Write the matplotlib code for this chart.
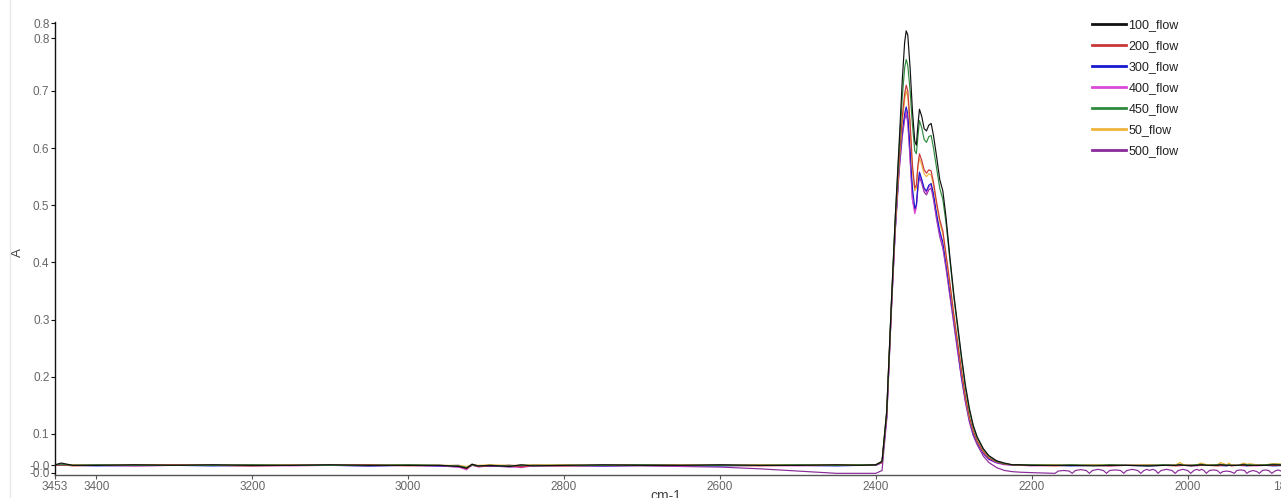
import matplotlib
matplotlib.use("Agg")
import matplotlib.pyplot as plt
from matplotlib.lines import Line2D

# ---------------- data ----------------
series_names = ["100_flow", "200_flow", "300_flow", "400_flow", "450_flow", "50_flow", "500_flow"]
series_colors = ["#111111", "#c8383a", "#1a1ad0", "#d94ad9", "#2f8a3c", "#f0b43c", "#8a2a9a"]

wn_left = [3453, 3445, 3430, 3400, 3350, 3300, 3250, 3200, 3150, 3100, 3050, 3000, 2960, 2935, 2925,
           2918, 2910, 2895, 2870, 2855, 2840, 2800, 2750, 2700, 2650, 2600, 2550, 2500, 2450, 2420]
wn_peak = [2400, 2392, 2386, 2380, 2375, 2370, 2366, 2363, 2361, 2359, 2356, 2353, 2350, 2348, 2346,
           2344, 2341, 2338, 2335, 2332, 2329, 2326, 2322, 2318, 2314, 2310, 2305, 2300, 2295, 2290,
           2285, 2280, 2275, 2270, 2262, 2255, 2245, 2235, 2225]
wn_right = [2215, 2200, 2170, 2150, 2120, 2100, 2080, 2050, 2030, 2015, 2010, 2005, 1995, 1988, 1983,
            1975, 1962, 1958, 1950, 1947, 1944, 1935, 1928, 1924, 1920, 1912, 1900, 1890, 1873]
wn_right_500 = [2215, 2195, 2170, 2166, 2159, 2152, 2148, 2144, 2137, 2130, 2126, 2122, 2115, 2108, 2104,
                2100, 2093, 2086, 2082, 2078, 2071, 2064, 2060, 2056, 2052, 2049, 2045, 2041, 2038, 2034,
                2027, 2020, 2016, 2012, 2006, 2000, 1996, 1992, 1988, 1985, 1982, 1979, 1976, 1972, 1967,
                1962, 1958, 1955, 1950, 1945, 1940, 1937, 1932, 1927, 1924, 1921, 1916, 1911, 1908, 1904,
                1900, 1896, 1892, 1888, 1884, 1880, 1876, 1873]

a100_left = [0.046, 0.049, 0.045, 0.045, 0.046, 0.045, 0.046, 0.045, 0.045, 0.046, 0.045, 0.045, 0.045, 0.043, 0.040,
             0.047, 0.044, 0.045, 0.043, 0.046, 0.044, 0.045, 0.046, 0.045, 0.045, 0.046, 0.045, 0.045, 0.046, 0.045]
a100_peak = [0.046, 0.052, 0.14, 0.33, 0.48, 0.61, 0.72, 0.785, 0.805, 0.798, 0.74, 0.665, 0.612, 0.605, 0.64,
             0.668, 0.655, 0.634, 0.630, 0.640, 0.643, 0.622, 0.585, 0.545, 0.525, 0.48, 0.41, 0.345, 0.29, 0.235,
             0.185, 0.145, 0.115, 0.095, 0.074, 0.062, 0.053, 0.049, 0.046]
a100_right = [0.046, 0.045, 0.045, 0.045, 0.044, 0.045, 0.045, 0.044, 0.045, 0.045, 0.046, 0.045, 0.045, 0.045, 0.046,
              0.045, 0.045, 0.046, 0.045, 0.045, 0.045, 0.045, 0.046, 0.045, 0.045, 0.045, 0.045, 0.046, 0.045]

a200_left = [0.045, 0.046, 0.044, 0.045, 0.045, 0.046, 0.045, 0.044, 0.045, 0.045, 0.046, 0.044, 0.045, 0.044, 0.039,
             0.046, 0.043, 0.044, 0.045, 0.042, 0.045, 0.044, 0.045, 0.046, 0.045, 0.045, 0.044, 0.045, 0.045, 0.045]
a200_peak = [0.046, 0.050, 0.135, 0.325, 0.47, 0.58, 0.655, 0.695, 0.71, 0.70, 0.645, 0.57, 0.53, 0.535, 0.57,
             0.59, 0.578, 0.562, 0.556, 0.562, 0.560, 0.54, 0.505, 0.475, 0.455, 0.415, 0.365, 0.31, 0.26, 0.21,
             0.165, 0.13, 0.105, 0.088, 0.069, 0.058, 0.051, 0.047, 0.046]
a200_right = [0.045, 0.045, 0.044, 0.045, 0.045, 0.044, 0.045, 0.045, 0.045, 0.044, 0.045, 0.045, 0.044, 0.045, 0.045,
              0.045, 0.044, 0.045, 0.045, 0.045, 0.044, 0.045, 0.045, 0.045, 0.044, 0.045, 0.045, 0.045, 0.045]

a300_left = [0.045, 0.045, 0.045, 0.044, 0.045, 0.045, 0.044, 0.045, 0.046, 0.045, 0.044, 0.045, 0.044, 0.045, 0.041,
             0.045, 0.044, 0.043, 0.045, 0.044, 0.045, 0.045, 0.044, 0.045, 0.045, 0.044, 0.045, 0.045, 0.044, 0.045]
a300_peak = [0.045, 0.050, 0.13, 0.32, 0.46, 0.57, 0.63, 0.66, 0.672, 0.66, 0.60, 0.53, 0.495, 0.50, 0.535,
             0.558, 0.545, 0.53, 0.525, 0.535, 0.538, 0.52, 0.485, 0.455, 0.435, 0.40, 0.35, 0.30, 0.25, 0.20,
             0.16, 0.125, 0.10, 0.085, 0.066, 0.056, 0.050, 0.047, 0.046]
a300_right = [0.045, 0.045, 0.045, 0.044, 0.045, 0.045, 0.045, 0.044, 0.045, 0.045, 0.045, 0.045, 0.044, 0.045, 0.045,
              0.045, 0.045, 0.045, 0.044, 0.045, 0.045, 0.045, 0.045, 0.044, 0.045, 0.045, 0.045, 0.044, 0.045]

a400_left = [0.045, 0.046, 0.045, 0.045, 0.044, 0.045, 0.045, 0.045, 0.044, 0.045, 0.045, 0.045, 0.044, 0.042, 0.037,
             0.047, 0.042, 0.044, 0.043, 0.041, 0.044, 0.045, 0.044, 0.045, 0.044, 0.045, 0.045, 0.044, 0.045, 0.045]
a400_peak = [0.045, 0.050, 0.13, 0.32, 0.46, 0.565, 0.625, 0.655, 0.665, 0.65, 0.585, 0.51, 0.485, 0.495, 0.53,
             0.555, 0.542, 0.528, 0.522, 0.532, 0.535, 0.515, 0.48, 0.45, 0.43, 0.395, 0.345, 0.295, 0.245, 0.197,
             0.157, 0.123, 0.099, 0.084, 0.065, 0.055, 0.049, 0.046, 0.045]
a400_right = [0.045, 0.044, 0.045, 0.045, 0.045, 0.044, 0.045, 0.045, 0.045, 0.045, 0.044, 0.045, 0.045, 0.044, 0.045,
              0.045, 0.045, 0.044, 0.045, 0.045, 0.045, 0.045, 0.044, 0.045, 0.045, 0.044, 0.045, 0.045, 0.045]

a450_left = [0.046, 0.047, 0.045, 0.046, 0.045, 0.045, 0.045, 0.046, 0.045, 0.045, 0.045, 0.046, 0.045, 0.044, 0.041,
             0.046, 0.044, 0.045, 0.044, 0.045, 0.045, 0.045, 0.045, 0.046, 0.045, 0.045, 0.045, 0.046, 0.045, 0.046]
a450_peak = [0.046, 0.052, 0.14, 0.33, 0.48, 0.60, 0.69, 0.74, 0.755, 0.745, 0.70, 0.64, 0.595, 0.59, 0.62,
             0.648, 0.635, 0.615, 0.610, 0.620, 0.622, 0.60, 0.565, 0.53, 0.51, 0.47, 0.405, 0.34, 0.285, 0.23,
             0.18, 0.14, 0.112, 0.093, 0.073, 0.061, 0.052, 0.048, 0.046]
a450_right = [0.046, 0.046, 0.045, 0.046, 0.045, 0.046, 0.045, 0.045, 0.046, 0.045, 0.047, 0.045, 0.045, 0.046, 0.047,
              0.045, 0.046, 0.047, 0.045, 0.046, 0.045, 0.045, 0.047, 0.046, 0.046, 0.045, 0.046, 0.047, 0.046]

a50_left = [0.046, 0.046, 0.046, 0.045, 0.046, 0.046, 0.045, 0.046, 0.046, 0.045, 0.046, 0.046, 0.045, 0.045, 0.043,
            0.046, 0.045, 0.046, 0.045, 0.045, 0.046, 0.046, 0.045, 0.046, 0.046, 0.045, 0.046, 0.046, 0.046, 0.046]
a50_peak = [0.046, 0.051, 0.135, 0.325, 0.465, 0.575, 0.645, 0.685, 0.70, 0.69, 0.635, 0.56, 0.525, 0.53, 0.565,
            0.582, 0.57, 0.555, 0.55, 0.555, 0.553, 0.535, 0.50, 0.47, 0.45, 0.41, 0.36, 0.307, 0.257, 0.207,
            0.163, 0.128, 0.104, 0.087, 0.068, 0.058, 0.051, 0.048, 0.046]
a50_right = [0.046, 0.046, 0.046, 0.045, 0.046, 0.046, 0.045, 0.046, 0.045, 0.046, 0.050, 0.046, 0.045, 0.046, 0.049,
             0.046, 0.046, 0.050, 0.046, 0.049, 0.046, 0.045, 0.049, 0.047, 0.048, 0.046, 0.046, 0.048, 0.047]

a500_left = [0.045, 0.045, 0.045, 0.045, 0.044, 0.045, 0.045, 0.044, 0.045, 0.045, 0.044, 0.045, 0.044, 0.042, 0.039,
             0.045, 0.043, 0.044, 0.042, 0.043, 0.044, 0.044, 0.044, 0.044, 0.043, 0.042, 0.039, 0.035, 0.031, 0.031]
a500_peak = [0.031, 0.036, 0.125, 0.315, 0.455, 0.56, 0.62, 0.65, 0.66, 0.645, 0.58, 0.51, 0.49, 0.50, 0.53,
             0.55, 0.538, 0.523, 0.518, 0.527, 0.53, 0.51, 0.475, 0.445, 0.425, 0.39, 0.342, 0.293, 0.244, 0.196,
             0.155, 0.121, 0.097, 0.081, 0.061, 0.050, 0.041, 0.036, 0.034]
a500_right = [0.033, 0.032, 0.031, 0.035, 0.036, 0.035, 0.031, 0.036, 0.0375, 0.036, 0.031, 0.036, 0.038, 0.036, 0.031,
              0.036, 0.037, 0.036, 0.031, 0.036, 0.038, 0.036, 0.031, 0.036, 0.038, 0.036, 0.038, 0.036, 0.031, 0.036,
              0.038, 0.036, 0.031, 0.036, 0.038, 0.036, 0.031, 0.036, 0.038, 0.036, 0.038, 0.036, 0.031, 0.036, 0.037,
              0.036, 0.031, 0.034, 0.035, 0.034, 0.031, 0.036, 0.037, 0.036, 0.031, 0.034, 0.036, 0.034, 0.031, 0.036,
              0.037, 0.036, 0.031, 0.035, 0.037, 0.035, 0.031, 0.033]

x_ticks = [3453, 3400, 3200, 3000, 2800, 2600, 2400, 2200, 2000, 1873]
x_tick_labels = ["3453", "3400", "3200", "3000", "2800", "2600", "2400", "2200", "2000", "1873"]
y_ticks = [0.0316, 0.0455, 0.1, 0.2, 0.3, 0.4, 0.5, 0.6, 0.7, 0.7925, 0.8187]
y_tick_labels = ["-0.0", "-0.0", "0.1", "0.2", "0.3", "0.4", "0.5", "0.6", "0.7", "0.8", "0.8"]

# ---------------- figure ----------------
W, H = 1281, 498
fig = plt.figure(figsize=(W / 100, H / 100), dpi=100)
ax = fig.add_axes([55 / W, (H - 475) / H, (1286.6 - 55) / W, (475 - 22) / H])

left_vals = [a100_left, a200_left, a300_left, a400_left, a450_left, a50_left, a500_left]
peak_vals = [a100_peak, a200_peak, a300_peak, a400_peak, a450_peak, a50_peak, a500_peak]
right_vals = [a100_right, a200_right, a300_right, a400_right, a450_right, a50_right, a500_right]

draw_order = [6, 3, 2, 5, 1, 4, 0]
for i in draw_order:
    rw = wn_right_500 if series_names[i] == "500_flow" else wn_right
    xs = wn_left + wn_peak + rw
    ys = left_vals[i] + peak_vals[i] + right_vals[i]
    assert len(xs) == len(ys), (series_names[i], len(xs), len(ys))
    ax.plot(xs, ys, color=series_colors[i], lw=0.85, solid_joinstyle="round")

ax.set_xlim(3453, 1873)
ax.set_ylim(0.0281, 0.8205)
ax.set_xticks(x_ticks)
ax.set_xticklabels(x_tick_labels)
ax.set_yticks(y_ticks)
ax.set_yticklabels(y_tick_labels)

for s in ["top", "right"]:
    ax.spines[s].set_visible(False)
ax.spines["left"].set_color("#111111")
ax.spines["left"].set_linewidth(1.0)
ax.spines["bottom"].set_color("#555555")
ax.spines["bottom"].set_linewidth(1.0)
ax.tick_params(axis="both", direction="out", length=3, width=0.8, colors="#555555",
               labelsize=8.5, pad=1)
ax.tick_params(axis="y", colors="#111111", labelcolor="#666666")
ax.tick_params(axis="x", labelcolor="#666666")
for lab in ax.get_xticklabels() + ax.get_yticklabels():
    lab.set_family("Liberation Sans")

fig.text(18 / W, 1 - 253 / H, "A", rotation=90, ha="center", va="center",
         fontsize=9.5, color="#444444", family="Liberation Sans")
fig.text(666 / W, 1 - 489 / H, "cm-1", ha="center", va="top",
         fontsize=10, color="#444444", family="Liberation Sans")

# faint window border on the left
fig.add_artist(Line2D([10 / W, 10 / W], [0, 1], color="#e8e8e8", lw=1))

handles = [Line2D([], [], color=c, lw=2.0) for c in series_colors]
leg = fig.legend(handles, series_names, loc="upper left",
                 bbox_to_anchor=(1092 / W, 1 - 19.5 / H), frameon=False,
                 fontsize=9, handlelength=2.7, handletextpad=0.2,
                 labelspacing=0.72, borderaxespad=0, borderpad=0)
for t in leg.get_texts():
    t.set_color("#222222")
    t.set_family("Liberation Sans")

fig.savefig("out.png", dpi=100)
